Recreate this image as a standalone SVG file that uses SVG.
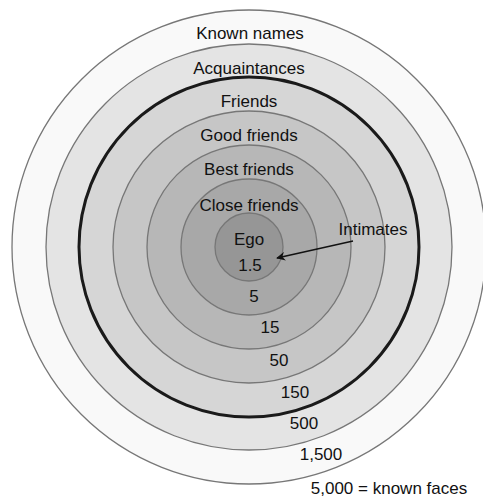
<svg xmlns="http://www.w3.org/2000/svg" width="483" height="497" viewBox="0 0 483 497">
<defs>
<marker id="ah" viewBox="0 0 10 10" refX="9" refY="5" markerWidth="9" markerHeight="9" markerUnits="userSpaceOnUse" orient="auto">
<path d="M0,0 L10,5 L0,10 L3,5 Z" fill="#111"/>
</marker>
</defs>
<style>
.ring{stroke:#777;stroke-width:1.3}
.thick{stroke:#1a1a1a;stroke-width:3}
text{font-family:"Liberation Sans",Arial,sans-serif;font-size:17px;fill:#111;text-anchor:middle}
</style>
<rect width="483" height="497" fill="#fff"/>
<g id="ring-known-faces"><circle class="ring" cx="249" cy="247" r="237" fill="#f9f9f9"/><text x="389" y="494">5,000 = known faces</text></g>
<g id="ring-known-names"><circle class="ring" cx="249" cy="247" r="203" fill="#e4e4e4"/><text x="250" y="39">Known names</text><text x="321" y="460">1,500</text></g>
<g id="ring-acquaintances"><circle class="thick" cx="249" cy="247" r="170" fill="#d6d6d6"/><text x="249" y="74">Acquaintances</text><text x="304" y="429">500</text></g>
<g id="ring-friends"><circle class="ring" cx="249" cy="247" r="136" fill="#c6c6c6"/><text x="249" y="107">Friends</text><text x="295" y="398">150</text></g>
<g id="ring-good-friends"><circle class="ring" cx="249" cy="247" r="102" fill="#b7b7b7"/><text x="249" y="141">Good friends</text><text x="279" y="366">50</text></g>
<g id="ring-best-friends"><circle class="ring" cx="249" cy="247" r="68" fill="#a8a8a8"/><text x="249" y="175">Best friends</text><text x="270" y="333">15</text></g>
<g id="ring-close-friends"><text x="249" y="211">Close friends</text><text x="254" y="302">5</text></g>
<g id="ego"><circle class="ring" cx="249" cy="247" r="34" fill="#969696"/><text x="249" y="245">Ego</text><text x="250" y="271">1.5</text></g>
<g id="intimates"><text x="373" y="235">Intimates</text></g>
<g id="connectors"><line x1="353" y1="241" x2="277" y2="258" stroke="#111" stroke-width="1.4" marker-end="url(#ah)"/></g>
</svg>
